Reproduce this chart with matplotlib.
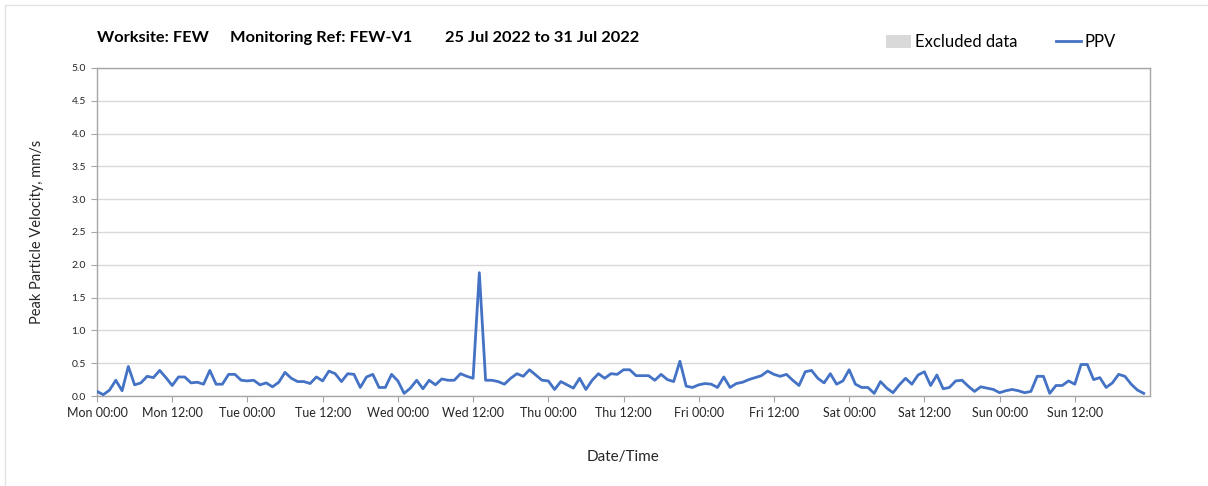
import matplotlib.pyplot as plt
plt.switch_backend('agg')
from matplotlib.patches import Rectangle
from matplotlib.lines import Line2D
from matplotlib.patches import Patch
import numpy as np

# hourly PPV readings, Mon 25 Jul 00:00 .. Sun 31 Jul 23:00
ppv_mon = [0.07, 0.02, 0.09, 0.24, 0.08, 0.45, 0.17, 0.20, 0.30, 0.28, 0.39, 0.28,
           0.16, 0.29, 0.29, 0.20, 0.21, 0.18, 0.39, 0.18, 0.18, 0.33, 0.33, 0.24]
ppv_tue = [0.23, 0.24, 0.17, 0.20, 0.14, 0.21, 0.36, 0.27, 0.22, 0.22, 0.19, 0.29,
           0.23, 0.38, 0.34, 0.22, 0.34, 0.33, 0.13, 0.29, 0.33, 0.13, 0.13, 0.33]
ppv_wed = [0.23, 0.04, 0.12, 0.24, 0.11, 0.24, 0.17, 0.26, 0.24, 0.24, 0.34, 0.30,
           0.27, 1.88, 0.24, 0.24, 0.22, 0.18, 0.27, 0.34, 0.30, 0.40, 0.32, 0.24]
ppv_thu = [0.23, 0.10, 0.22, 0.17, 0.12, 0.27, 0.10, 0.24, 0.34, 0.27, 0.34, 0.33,
           0.40, 0.40, 0.31, 0.31, 0.31, 0.24, 0.33, 0.25, 0.22, 0.53, 0.15, 0.13]
ppv_fri = [0.17, 0.19, 0.18, 0.13, 0.29, 0.13, 0.19, 0.21, 0.25, 0.28, 0.31, 0.38,
           0.33, 0.30, 0.33, 0.24, 0.16, 0.37, 0.39, 0.27, 0.20, 0.34, 0.18, 0.23]
ppv_sat = [0.40, 0.18, 0.13, 0.13, 0.04, 0.22, 0.12, 0.05, 0.17, 0.27, 0.18, 0.32,
           0.37, 0.16, 0.32, 0.11, 0.13, 0.23, 0.24, 0.15, 0.07, 0.14, 0.12, 0.10]
ppv_sun = [0.05, 0.08, 0.10, 0.08, 0.05, 0.07, 0.30, 0.30, 0.04, 0.16, 0.16, 0.23,
           0.18, 0.48, 0.48, 0.25, 0.28, 0.13, 0.20, 0.33, 0.30, 0.18, 0.09, 0.04]

days = ['Mon', 'Tue', 'Wed', 'Thu', 'Fri', 'Sat', 'Sun']
tick_labels = [f'{d} {t}' for d in days for t in ('00:00', '12:00')]

ppv = np.array(ppv_mon + ppv_tue + ppv_wed + ppv_thu + ppv_fri + ppv_sat + ppv_sun)
hours = np.arange(len(ppv))

font = 'Lato'
text_col = '#262626'
grid_col = '#d9d9d9'
blue = '#4472c4'

fig = plt.figure(figsize=(12.08, 4.86), dpi=100)
ax = fig.add_axes([97 / 1208, 1 - 396 / 486, 1053 / 1208, 328 / 486])

ax.plot(hours, ppv, color=blue, lw=2.0, solid_joinstyle='round', zorder=3)

ax.set_xlim(0, 168)
ax.set_ylim(0, 5)
ax.set_xticks(np.arange(0, 168, 12))
ax.set_xticklabels(tick_labels, fontsize=9, family=font, color=text_col)
ax.set_xticks(np.arange(24, 168, 24), minor=True)
ax.set_yticks(np.arange(0, 5.01, 0.5))
ax.set_yticklabels([f'{v:.1f}' for v in np.arange(0, 5.01, 0.5)],
                   fontsize=7.5, family=font, color=text_col)
ax.tick_params(axis='both', which='major', length=4, color='#a6a6a6', pad=4)
ax.tick_params(axis='x', which='minor', length=0)
ax.grid(True, axis='y', which='major', color=grid_col, lw=1)
ax.grid(True, axis='x', which='minor', color=grid_col, lw=1)
ax.set_axisbelow(True)
for s in ax.spines.values():
    s.set_color('#a6a6a6')
    s.set_linewidth(1)

ax.set_ylabel('Peak Particle Velocity, mm/s', fontsize=10.5, family=font,
              color=text_col, labelpad=20)
ax.set_xlabel('Date/Time', fontsize=11, family=font, color=text_col, labelpad=22)

# title pieces
for x, s in [(97, 'Worksite: FEW'), (230, 'Monitoring Ref: FEW-V1'),
             (445, '25 Jul 2022 to 31 Jul 2022')]:
    fig.text(x / 1208, 1 - 38 / 486, s, fontsize=11.8, fontweight='bold',
             family=font, color='black', va='center', ha='left')

handles = [Patch(facecolor='#d9d9d9', edgecolor='none'),
           Line2D([], [], color=blue, lw=2.0)]
fig.legend(handles, ['Excluded data', 'PPV'], loc='center right',
           bbox_to_anchor=(1131 / 1208, 1 - 42 / 486), ncol=2, frameon=False,
           prop={'family': font, 'size': 12}, handlelength=1.5,
           handleheight=0.8, columnspacing=2.3, handletextpad=0.25)

# thin outer frame
fig.patches.append(Rectangle((5 / 1208, -0.01), 1.01, 1 - 5 / 486 + 0.01,
                             transform=fig.transFigure, fill=False,
                             edgecolor='#e3e3e3', lw=1))

fig.savefig('out.png', dpi=100)
